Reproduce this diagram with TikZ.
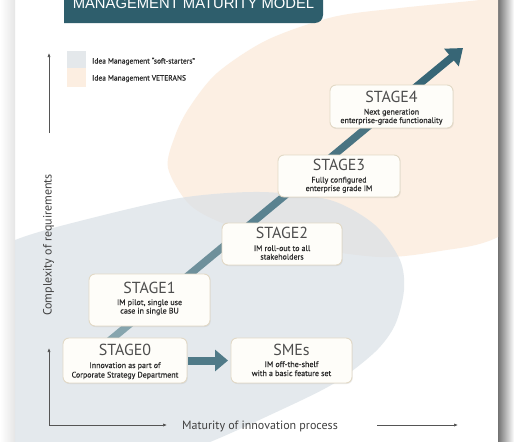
\documentclass[tikz,border=0pt]{standalone}
\usepackage{fontspec}
\setmainfont{PT Sans}
\newfontfamily\bannerfont{Liberation Sans}
\newfontfamily\semifont[FakeBold=0.35]{PT Sans}
\usetikzlibrary{arrows.meta,shadows}
\definecolor{bannerteal}{HTML}{2E5E6C}
\definecolor{peach}{HTML}{FCEFE3}
\definecolor{bluegray}{HTML}{D9E0E6}
\definecolor{legblue}{HTML}{E4E8EB}
\definecolor{legpeach}{HTML}{FCEEE1}
\definecolor{boxborder}{HTML}{E2D9C6}
\definecolor{boxfill}{HTML}{FEFDF9}
\definecolor{cA}{HTML}{86A5AE}
\definecolor{cB}{HTML}{6E909B}
\definecolor{cC}{HTML}{5A8290}
\definecolor{cD}{HTML}{4A7482}
\definecolor{cE}{HTML}{376676}
\definecolor{cS}{HTML}{4F7A88}
\definecolor{titlegray}{HTML}{4D4D4D}
\definecolor{textgray}{HTML}{2A2A2A}
\definecolor{axisgray}{HTML}{555555}
\tikzset{
  stagebox/.style={draw=boxborder, fill=boxfill, rounded corners=6pt, line width=0.9pt,
    inner sep=0pt, outer sep=0pt,
    drop shadow={shadow xshift=0.7pt, shadow yshift=-1pt, opacity=0.15}},
  stagetitle/.style={anchor=base, inner sep=0pt, text=titlegray, font=\fontsize{16}{18}\selectfont},
  stagetext/.style={anchor=base, inner sep=0pt, text=textgray, font=\semifont\fontsize{8}{9.5}\selectfont},
  diag/.style={line width=7.5pt},
  axisline/.style={draw=axisgray, line width=0.7pt, -{Latex[length=4pt,width=3.2pt]}},
  axislabel/.style={anchor=base, inner sep=0pt, text=black!75, font=\fontsize{12}{14}\selectfont},
  legtext/.style={anchor=base west, inner sep=0pt, text=textgray, font=\semifont\fontsize{7.5}{9}\selectfont}
}
\begin{document}
\begin{tikzpicture}[x=1pt,y=-1pt]
\useasboundingbox (0,0) rectangle (531,442);
\fill[white] (0,0) rectangle (531,442);
\shade[left color=white, right color=black!10] (0,0) rectangle (15,442);
\shade[left color=black!55, right color=white] (498,0) rectangle (514,442);
% background blobs
\begin{scope}
\clip (15,0) rectangle (498,442);
\fill[peach] plot[smooth cycle] coordinates {(168,168) (175,136) (189,108) (217,73) (267,40) (333,17) (400,8) (480,0) (560,-10) (610,60) (580,180) (498,237) (440,251) (380,257) (300,246) (230,226) (190,205)};
\fill[bluegray, fill opacity=0.7] plot[smooth cycle] coordinates {(-60,275) (15,240) (80,221) (180,198) (260,192) (330,200) (375,225) (400,260) (404,290) (395,325) (375,352) (333,384) (270,415) (200,446) (100,480) (-20,470) (-70,380)};
\end{scope}
% banner
\fill[bannerteal] (64,-20) -- (323,-20) -- (323,15) arc[start angle=0, end angle=90, radius=8] -- (64,23) -- cycle;
\node[anchor=base, inner sep=0pt, text=white, font=\bannerfont\fontsize{14.8}{16}\selectfont] (title) at (193.5,8) {MANAGEMENT MATURITY MODEL};
% legend
\fill[legblue] (67,51) rectangle (86,68);
\fill[legpeach] (67,68) rectangle (86,87);
\node[legtext] (leg1) at (92,63.5) {Idea Management “soft-starters”};
\node[legtext] (leg2) at (92,80.5) {Idea Management VETERANS};
% axes
\coordinate (o) at (49,425);
\coordinate (yup1) at (49,133);
\coordinate (yup2) at (49,53);
\coordinate (ylow) at (49,348);
\coordinate (xr1) at (167,425);
\coordinate (xr2a) at (377,425);
\coordinate (xr2b) at (458,425);
\draw[axisline] (yup1) -- (yup2);
\draw[axisline] (o) -- (ylow);
\draw[axisline] (o) -- (xr1);
\draw[axisline] (xr2a) -- (xr2b);
\node[axislabel, rotate=90] (ylab) at (51.5,245) {Complexity of requirements};
\node[axislabel] (xlab) at (260,429.5) {Maturity of innovation process};
% diagonal path coordinates
\coordinate (p0) at (100,348.6);
\coordinate (p1) at (158.7,300);
\coordinate (p2) at (237,235.2);
\coordinate (p3) at (308.5,176);
\coordinate (p4) at (388,110);
\coordinate (tip) at (463,48);
\draw[diag, draw=cA] (p0) -- (p1);
\draw[diag, draw=cB] (p1) -- (p2);
\draw[diag, draw=cC] (p2) -- (p3);
\draw[diag, draw=cD] (p3) -- (p4);
\draw[diag, draw=cE, -{Triangle[length=15pt,width=22pt]}] (p4) -- (tip);
% boxes
\node[stagebox, minimum width=124pt, minimum height=45pt] (s0) at (125,360.5) {};
\node[stagebox, minimum width=121pt, minimum height=52pt] (s1) at (149.5,300) {};
\node[stagebox, minimum width=120pt, minimum height=42pt] (s2) at (282,244) {};
\node[stagebox, minimum width=122pt, minimum height=42pt] (s3) at (339,176) {};
\node[stagebox, minimum width=123pt, minimum height=43pt] (s4) at (391.5,106.5) {};
\node[stagebox, minimum width=121pt, minimum height=45pt] (sme) at (291.5,360.5) {};
% SMEs arrow
\draw[line width=8pt, draw=cS, -{Triangle[length=13pt,width=21pt]}, shorten >=3pt, shorten <=1pt] (s0.east) -- (sme.west);
% texts
\node[stagetitle] (s0t) at (125,355) {STAGE0};
\node[stagetext] (s0a) at (125,368) {Innovation as part of};
\node[stagetext] (s0b) at (125,377.5) {Corporate Strategy Department};
\node[stagetitle] (s1t) at (149.5,293) {STAGE1};
\node[stagetext] (s1a) at (149.5,305) {IM pilot, single use};
\node[stagetext] (s1b) at (149.5,313.5) {case in single BU};
\node[stagetitle] (s2t) at (282,238) {STAGE2};
\node[stagetext] (s2a) at (282,251) {IM roll-out to all};
\node[stagetext] (s2b) at (282,259.5) {stakeholders};
\node[stagetitle] (s3t) at (339,170) {STAGE3};
\node[stagetext] (s3a) at (339,182.5) {Fully configured};
\node[stagetext] (s3b) at (339,191) {enterprise grade IM};
\node[stagetitle] (s4t) at (391.5,102) {STAGE4};
\node[stagetext] (s4a) at (391.5,114.5) {Next generation};
\node[stagetext] (s4b) at (391.5,123) {enterprise-grade functionality};
\node[stagetitle] (smet) at (291.5,355) {SMEs};
\node[stagetext] (smea) at (291.5,367) {IM off-the-shelf};
\node[stagetext] (smeb) at (291.5,376) {with a basic feature set};
\end{tikzpicture}
\end{document}
